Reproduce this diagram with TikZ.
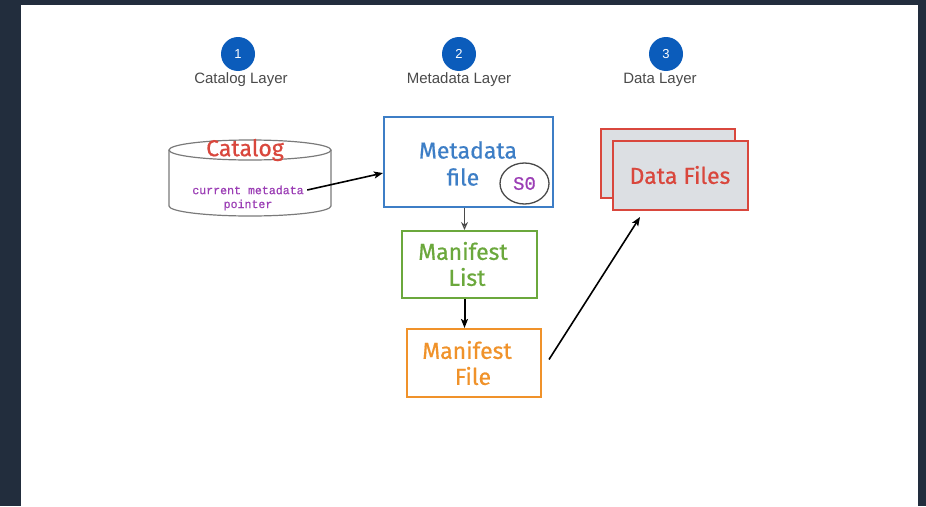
\documentclass[tikz,border=0pt]{standalone}
\usepackage{fontspec}
\setmainfont{Liberation Sans}
\newfontfamily\handfont[FakeBold=0.6]{Fira Sans}
\newfontfamily\codefont[FakeBold=0.6]{Liberation Mono}
\usetikzlibrary{arrows.meta,calc,shapes.geometric}
\definecolor{frame}{HTML}{222D3D}
\definecolor{stepblue}{HTML}{0B5CBB}
\definecolor{labelgray}{HTML}{4A4A4A}
\definecolor{boxblue}{HTML}{3D7EC6}
\definecolor{boxgreen}{HTML}{6BA83C}
\definecolor{boxorange}{HTML}{F0922A}
\definecolor{boxred}{HTML}{D9473D}
\definecolor{ptrpurple}{HTML}{9B3DB5}
\definecolor{cylgray}{HTML}{7A7A7A}
\definecolor{filefill}{HTML}{DCDFE3}
\tikzset{
  stepdot/.style={circle,fill=stepblue,minimum size=34pt,inner sep=0pt,
    text=white,font=\fontsize{13}{15}\selectfont},
  layerlabel/.style={text=labelgray,font=\fontsize{15}{17}\selectfont},
  hand/.style={font=\handfont\fontsize{23}{27}\selectfont},
  sketchbox/.style={draw,line width=2pt,inner sep=0pt},
  link/.style={line width=1.6pt,-{Stealth[length=9pt,width=7pt,inset=2pt]}},
}
\begin{document}
\begin{tikzpicture}[x=1pt,y=-1pt]
  % page frame and white panel
  \fill[frame] (0,0) rectangle (926,506);
  \fill[white] (21,5) rectangle (918,506);
  \useasboundingbox (0,0) rectangle (926,506);

  % step markers
  \node[stepdot] (c1) at (238,54) {1};
  \node[stepdot] (c2) at (459,54) {2};
  \node[stepdot] (c3) at (666,54) {3};
  \node[layerlabel] (l1) at (241,80) {Catalog Layer};
  \node[layerlabel] (l2) at (459,80) {Metadata Layer};
  \node[layerlabel] (l3) at (660,80) {Data Layer};

  % catalog cylinder
  \draw[cylgray,line width=1.2pt]
    (169,150) -- (169,206) arc[start angle=180,end angle=0,x radius=81,y radius=10]
    -- (331,150);
  \draw[cylgray,line width=1.2pt,fill=white] (250,150) ellipse[x radius=81,y radius=10];
  \node[hand,text=boxred] (cat) at (245,150) {Catalog};
  \node[font=\codefont\fontsize{11.6}{13}\selectfont,text=ptrpurple] (ptr1) at (248,190) {current metadata};
  \node[font=\codefont\fontsize{11.6}{13}\selectfont,text=ptrpurple] (ptr2) at (248,205) {pointer};

  % metadata file
  \node[sketchbox,draw=boxblue,minimum width=169pt,minimum height=90pt] (meta) at (468.5,162) {};
  \node[hand,text=boxblue] (metat1) at (468,150) {Metadata};
  \node[hand,text=boxblue] (metat2) at (463,177) {file};
  \node[draw=labelgray,line width=1.3pt,ellipse,minimum width=49pt,minimum height=41pt,
        inner sep=0pt,text=ptrpurple,font=\codefont\fontsize{19}{22}\selectfont] (snap) at (524.5,183.5) {S0};

  % manifest list
  \node[sketchbox,draw=boxgreen,minimum width=135pt,minimum height=67pt] (mlist) at (469.5,264.5) {};
  \node[hand,text=boxgreen] (mlt1) at (463,251) {Manifest};
  \node[hand,text=boxgreen] (mlt2) at (467,277) {List};

  % manifest file
  \node[sketchbox,draw=boxorange,minimum width=134pt,minimum height=68pt] (mfile) at (474,363) {};
  \node[hand,text=boxorange] (mft1) at (467,350) {Manifest};
  \node[hand,text=boxorange] (mft2) at (473,376) {File};

  % data files (stacked)
  \node[sketchbox,draw=boxred,fill=filefill,minimum width=134pt,minimum height=69pt] (dback) at (668,163.5) {};
  \node[sketchbox,draw=boxred,fill=filefill,minimum width=135pt,minimum height=69pt] (dfront) at (680.5,175.5) {};
  \node[hand,text=boxred] (dft) at (680,175) {Data Files};

  % connectors
  \draw[link,black] (ptr1.east) -- ($(meta.north west)!0.62!(meta.south west)$);
  \draw[labelgray,line width=1.1pt,-{Stealth[length=8pt,width=7pt,open]}]
    (meta.south -| mlist.north) ++(-5,0) coordinate (ms) -- (ms |- mlist.north);
  \draw[link,black,line width=2pt] (mlist.south) ++(-5,0) coordinate (ls) -- (ls |- mfile.north);
  \coordinate (dtip) at (640,217);
  \draw[link,black] ($(mfile.north east)!0.45!(mfile.south east)+(7,0)$) -- (dtip);
\end{tikzpicture}
\end{document}
